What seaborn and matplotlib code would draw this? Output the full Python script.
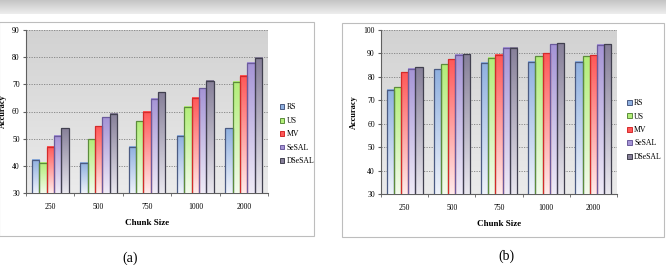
import numpy as np
import pandas as pd
import matplotlib
matplotlib.use("Agg")
import matplotlib.pyplot as plt
import seaborn as sns
from matplotlib.patches import Rectangle, Patch
from matplotlib.colors import to_rgb

# data
chunk_sizes = ["250", "500", "750", "1000", "2000"]
methods = ["RS", "US", "MV", "SeSAL", "DSeSAL"]

rs_a = [42.2, 41.2, 47.0, 51.0, 53.8]
us_a = [41.2, 49.8, 56.5, 61.8, 71.0]
mv_a = [47.0, 54.5, 60.0, 65.1, 73.1]
sesal_a = [51.0, 57.8, 64.7, 68.5, 77.9]
dsesal_a = [53.8, 59.2, 67.0, 71.3, 79.8]

rs_b = [74.5, 83.2, 86.0, 86.5, 86.5]
us_b = [75.5, 85.3, 88.2, 88.7, 88.7]
mv_b = [82.0, 87.5, 89.5, 90.0, 89.2]
sesal_b = [83.5, 89.5, 92.5, 94.0, 93.8]
dsesal_b = [84.0, 89.6, 92.5, 94.3, 94.0]

ylim_a = (30, 90)
ylim_b = (30, 100)

top_colors = ["#8fb0e0", "#b2ee78", "#ff5858", "#a594d6", "#878099"]
bottom_colors = ["#eef2fa", "#f3fbec", "#ffeaea", "#efebf7", "#e9e7ee"]
edge_colors = ["#4b5b82", "#5c8c3c", "#d42a2a", "#6b5b9c", "#41404f"]

plt.rcParams['font.family'] = ['Liberation Serif', 'DejaVu Serif']


def make_df(series):
    rows = []
    for m, vals in zip(methods, series):
        for c, v in zip(chunk_sizes, vals):
            rows.append({"Chunk Size": c, "Accuracy": v, "Method": m})
    return pd.DataFrame(rows)


def vgrad(c_top, c_bot, n=64):
    t = np.linspace(0, 1, n)[:, None]
    a, b = np.array(to_rgb(c_top)), np.array(to_rgb(c_bot))
    img = a[None, None, :] * (1 - t[:, :, None]) + b[None, None, :] * t[:, :, None]
    return img


def draw_panel(ax, df, ylim, leg_x, leg_y):
    # grey gradient background of the plot area
    ax.imshow(vgrad("#d2d2d2", "#ebebeb"), extent=(0, 1, 0, 1), transform=ax.transAxes,
              aspect="auto", zorder=0)
    sns.barplot(data=df, x="Chunk Size", y="Accuracy", hue="Method", order=chunk_sizes,
                hue_order=methods, width=0.76, ax=ax, legend=False, errorbar=None,
                palette=top_colors, zorder=3)
    ax.set_ylim(*ylim)
    ax.set_xlim(-0.5, len(chunk_sizes) - 0.5)
    for cont, ct, cb, ce in zip(ax.containers, top_colors, bottom_colors, edge_colors):
        for bar in cont:
            x0, w, h = bar.get_x(), bar.get_width(), bar.get_height()
            bar.set_facecolor("none")
            bar.set_edgecolor(ce)
            bar.set_linewidth(0.9)
            bar.set_zorder(4)
            ax.imshow(vgrad(ct, cb), extent=(x0, x0 + w, ylim[0], h), aspect="auto", zorder=3)
    ax.set_xlim(-0.5, len(chunk_sizes) - 0.5)
    ax.set_ylim(*ylim)
    ax.set_yticks(np.arange(ylim[0], ylim[1] + 1, 10))
    ax.yaxis.grid(True, linestyle=(0, (1.5, 1.5)), color="#808080", linewidth=0.6, zorder=1)
    ax.set_axisbelow(True)
    ax.set_xticks(np.arange(-0.5, len(chunk_sizes)), minor=True)
    ax.tick_params(axis="x", which="major", length=0, labelsize=5.5, pad=7)
    ax.tick_params(axis="x", which="minor", length=2.5, color="#606060")
    ax.tick_params(axis="y", length=2.5, labelsize=5.5, color="#606060", pad=2)
    for s in ["top", "right"]:
        ax.spines[s].set_visible(False)
    for s in ["left", "bottom"]:
        ax.spines[s].set_color("#606060")
        ax.spines[s].set_linewidth(0.8)
    ax.set_xlabel("Chunk Size", fontsize=6.5, fontweight="bold", labelpad=6)
    ax.set_ylabel("Accuracy", fontsize=6, fontweight="bold", labelpad=4)
    handles = [Patch(facecolor=ct, edgecolor=ce, linewidth=0.7) for ct, ce in zip(top_colors, edge_colors)]
    ax.legend(handles, methods, loc="center left", bbox_to_anchor=(leg_x, leg_y), frameon=False,
              fontsize=5.6, handlelength=0.6, handleheight=0.6, handletextpad=0.3,
              labelspacing=0.7, borderaxespad=0)


W, H = 666, 265
fig = plt.figure(figsize=(W / 100, H / 100), dpi=100)
fig.patch.set_facecolor("white")

# top grey band
band = fig.add_axes([0, 1 - 14 / H, 1, 14 / H])
band.imshow(vgrad("#c4c4c4", "#eeeeee"), extent=(0, 1, 0, 1), aspect="auto")
band.set_axis_off()

# panel frames
fig.patches.append(Rectangle((-1 / W, 1 - 236 / H), 315 / W, 214 / H, transform=fig.transFigure,
                             facecolor="white", edgecolor="#bdbdbd", linewidth=0.8, zorder=-5))
fig.patches.append(Rectangle((342 / W, 1 - 237 / H), 322 / W, 214 / H, transform=fig.transFigure,
                             facecolor="white", edgecolor="#bdbdbd", linewidth=0.8, zorder=-5))

ax_a = fig.add_axes([26 / W, 1 - 193 / H, 242 / W, 163 / H])
ax_a.set_zorder(2)
draw_panel(ax_a, make_df([rs_a, us_a, mv_a, sesal_a, dsesal_a]), ylim_a, 1.035, 0.36)

ax_b = fig.add_axes([381 / W, 1 - 194 / H, 236 / W, 164 / H])
ax_b.set_zorder(2)
draw_panel(ax_b, make_df([rs_b, us_b, mv_b, sesal_b, dsesal_b]), ylim_b, 1.03, 0.39)

fig.text(130 / W, 1 - 252 / H, "(a)", fontsize=10, ha="center", va="top")
fig.text(506 / W, 1 - 250 / H, "(b)", fontsize=10, ha="center", va="top")

fig.savefig("out.png", dpi=100)
